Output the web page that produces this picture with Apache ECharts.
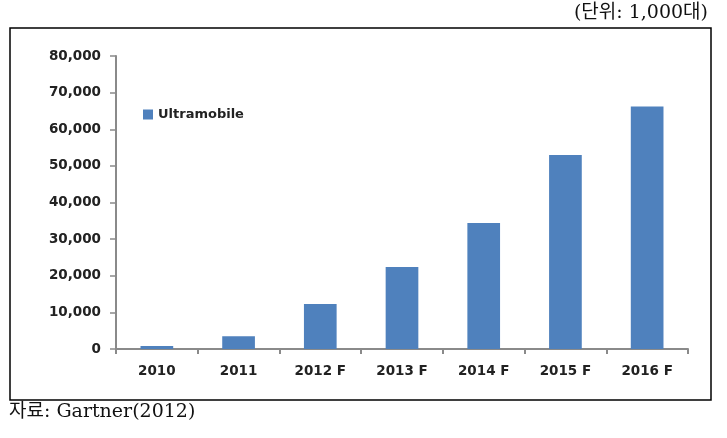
<!DOCTYPE html>
<html><head><meta charset="utf-8">
<script src="https://cdn.jsdelivr.net/npm/echarts@6/dist/echarts.min.js"></script>
<style>html,body{margin:0;padding:0;background:#fff}#c{width:727px;height:438px}</style>
</head><body><div id="c"></div>
<script>
var categories = ['2010', '2011', '2012 F', '2013 F', '2014 F', '2015 F', '2016 F'];
var ultramobile = [800, 3500, 12300, 22400, 34400, 53000, 66200];
var seriesName = 'Ultramobile';
var unitText = '(단위: 1,000대)';
var sourceText = '자료: Gartner(2012)';

var chart = echarts.init(document.getElementById('c'));
chart.setOption({
  animation: false,
  backgroundColor: '#fff',
  grid: {left: 116, right: 39, top: 56, bottom: 89},
  legend: {
    data: [seriesName], left: 138, top: 103, itemWidth: 10, itemHeight: 10, itemGap: 4, icon: 'rect',
    textStyle: {fontFamily: 'DejaVu Sans', fontWeight: 'bold', fontSize: 13, color: '#222'}
  },
  xAxis: {
    type: 'category', data: categories,
    axisLine: {lineStyle: {color: '#8a8a8a', width: 2}},
    axisTick: {show: true, length: 5, lineStyle: {color: '#8a8a8a', width: 2}},
    axisLabel: {margin: 15, fontFamily: 'DejaVu Sans', fontWeight: 'bold', fontSize: 13.5, color: '#222'}
  },
  yAxis: {
    type: 'value', min: 0, max: 80000, interval: 10000,
    axisLine: {show: true, lineStyle: {color: '#8a8a8a', width: 2}},
    axisTick: {show: true, length: 6, lineStyle: {color: '#8a8a8a', width: 1.5}},
    splitLine: {show: false},
    axisLabel: {margin: 15, fontFamily: 'DejaVu Sans', fontWeight: 'bold', fontSize: 13.5, color: '#222',
      formatter: function (v) { return v.toLocaleString('en-US'); }}
  },
  series: [{
    name: seriesName, type: 'bar', data: ultramobile, barWidth: '40%',
    itemStyle: {color: '#4F81BD'}
  }],
  graphic: [
    {type: 'rect', shape: {x: 10, y: 28, width: 701, height: 372}, style: {fill: 'none', stroke: '#000', lineWidth: 1.5}, silent: true, z: -1},
    {type: 'text', right: 19, top: 4, style: {text: unitText, font: '19px "DejaVu Serif", "Noto Sans CJK KR"', fill: '#111'}},
    {type: 'text', left: 9, top: 403, style: {text: sourceText, font: '19px "DejaVu Serif", "Noto Sans CJK KR"', fill: '#111'}}
  ]
});
</script></body></html>
